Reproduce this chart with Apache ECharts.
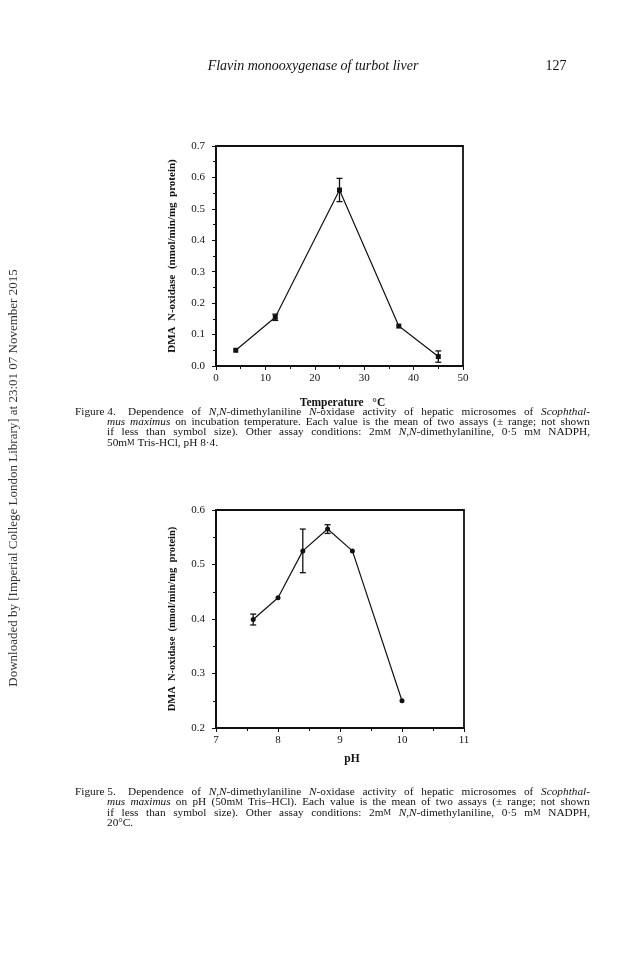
<!DOCTYPE html>
<html>
<head>
<meta charset="utf-8">
<script src="https://cdn.jsdelivr.net/npm/echarts@6/dist/echarts.min.js"></script>
<style>
html,body{margin:0;padding:0;background:#fff;}
#c{width:631px;height:953px;}
</style>
</head>
<body>
<div id="c"></div>
<script>
// Figure 4: temperature dependence
var tempX = [4, 12, 25, 37, 45];
var tempY = [0.05, 0.155, 0.56, 0.127, 0.03];
var tempErr = [0, 0.01, 0.037, 0, 0.018];
var tempTicksY = ['0.0','0.1','0.2','0.3','0.4','0.5','0.6','0.7'];

// Figure 5: pH dependence
var phX = [7.6, 8.0, 8.4, 8.8, 9.2, 10.0];
var phY = [0.399, 0.439, 0.525, 0.565, 0.525, 0.25];
var phErr = [0.01, 0, 0.04, 0.008, 0, 0];

// Caption texts ({i|...} italic, {sc|...} small capital)
var cap1 = [
  'Dependence of {i|N,N}-dimethylaniline {i|N}-oxidase activity of hepatic microsomes of {i|Scophthal-}',
  '{i|mus maximus} on incubation temperature. Each value is the mean of two assays (± range; not shown',
  'if less than symbol size). Other assay conditions: 2m{sc|M} {i|N,N}-dimethylaniline, 0·5 m{sc|M} NADPH,',
  '50m{sc|M} Tris-HCl, pH 8·4.'
];
var cap2 = [
  'Dependence of {i|N,N}-dimethylaniline {i|N}-oxidase activity of hepatic microsomes of {i|Scophthal-}',
  '{i|mus maximus} on pH (50m{sc|M} Tris–HCl). Each value is the mean of two assays (± range; not shown',
  'if less than symbol size). Other assay conditions: 2m{sc|M} {i|N,N}-dimethylaniline, 0·5 m{sc|M} NADPH,',
  '20°C.'
];

var SERIF = '"Liberation Serif", "DejaVu Serif", serif';
var INK = '#111';
var CAP_FS = 11.3;
var SC_FS = 8.5;

function pts(xs, ys){ return xs.map(function(x,i){ return [x, ys[i]]; }); }
function errs(xs, ys, es){
  var out = [];
  xs.forEach(function(x,i){ if (es[i] > 0) out.push([x, ys[i]-es[i], ys[i]+es[i]]); });
  return out;
}
function errRender(params, api){
  var lo = api.coord([api.value(0), api.value(1)]);
  var hi = api.coord([api.value(0), api.value(2)]);
  var w = 3;
  var st = {stroke: INK, lineWidth: 1.3};
  return {type:'group', children:[
    {type:'line', shape:{x1:lo[0], y1:lo[1], x2:hi[0], y2:hi[1]}, style:st},
    {type:'line', shape:{x1:lo[0]-w, y1:lo[1], x2:lo[0]+w, y2:lo[1]}, style:st},
    {type:'line', shape:{x1:hi[0]-w, y1:hi[1], x2:hi[0]+w, y2:hi[1]}, style:st}
  ]};
}

function axisCommon(){
  return {
    axisLine:{show:true, lineStyle:{color:INK, width:1.8}},
    axisTick:{show:true, length:4, lineStyle:{color:INK, width:1}},
    minorTick:{show:true, splitNumber:2, length:3, lineStyle:{color:INK, width:1}},
    splitLine:{show:false},
    axisLabel:{color:INK, fontFamily:SERIF, fontSize:11}
  };
}
function merge(a,b){ for (var k in b) a[k]=b[k]; return a; }

// ---- justified caption text ----
var mctx = document.createElement('canvas').getContext('2d');
var fonts = {
  n: CAP_FS + 'px ' + SERIF,
  i: 'italic ' + CAP_FS + 'px ' + SERIF,
  sc: SC_FS + 'px ' + SERIF
};
function measure(style, t){ mctx.font = fonts[style]; return mctx.measureText(t).width; }
function parseRich(s){
  var segs = [], re = /\{(\w+)\|([^}]*)\}/g, last = 0, m;
  while ((m = re.exec(s))){
    if (m.index > last) segs.push({s:'n', t:s.slice(last, m.index)});
    segs.push({s:m[1], t:m[2]});
    last = re.lastIndex;
  }
  if (last < s.length) segs.push({s:'n', t:s.slice(last)});
  return segs;
}
function toWords(s){
  var words = [[]];
  parseRich(s).forEach(function(seg){
    var parts = seg.t.split(' ');
    parts.forEach(function(p, k){
      if (k > 0) words.push([]);
      if (p.length) words[words.length-1].push({s:seg.s, t:p});
    });
  });
  return words.filter(function(w){ return w.length; });
}
var richCap = {
  i:{fontStyle:'italic', fontFamily:SERIF, fontSize:CAP_FS, color:INK},
  sc:{fontFamily:SERIF, fontSize:SC_FS, color:INK}
};
function lineGraphics(x, y, right, s, justify){
  var words = toWords(s);
  var widths = words.map(function(w){
    return w.reduce(function(a, seg){ return a + measure(seg.s, seg.t); }, 0);
  });
  var total = widths.reduce(function(a,b){ return a+b; }, 0);
  var gap = measure('n', ' ');
  if (justify && words.length > 1) gap = (right - x - total) / (words.length - 1);
  var out = [], cx = x;
  words.forEach(function(w, k){
    var txt = w.map(function(seg){ return seg.s === 'n' ? seg.t : '{' + seg.s + '|' + seg.t + '}'; }).join('');
    out.push({type:'text', x:cx, y:y, style:{text:txt, fontFamily:SERIF, fontSize:CAP_FS, fill:INK, rich:richCap, verticalAlign:'middle'}});
    cx += widths[k] + gap;
  });
  return out;
}

var graphics = [
  {type:'text', x:313, y:66, style:{text:'Flavin monooxygenase of turbot liver', fontFamily:SERIF, fontStyle:'italic', fontSize:14, fill:INK, align:'center', verticalAlign:'middle'}},
  {type:'text', x:556, y:66, style:{text:'127', fontFamily:SERIF, fontSize:14, fill:INK, align:'center', verticalAlign:'middle'}},
  {type:'text', x:14, y:478, rotation:Math.PI/2, style:{text:'Downloaded by [Imperial College London Library] at 23:01 07 November 2015', fontFamily:SERIF, fontSize:13, fill:'#333', align:'center', verticalAlign:'middle'}},
  {type:'text', x:75, y:412, style:{text:'Figure 4.', fontFamily:SERIF, fontSize:CAP_FS, fill:INK, verticalAlign:'middle'}},
  {type:'text', x:75, y:792, style:{text:'Figure 5.', fontFamily:SERIF, fontSize:CAP_FS, fill:INK, verticalAlign:'middle'}}
];
var RIGHT = 590;
var y1s = [412, 422.2, 432.4, 442.6];
var y2s = [792, 802.4, 812.6, 822.8];
cap1.forEach(function(s, k){
  graphics = graphics.concat(lineGraphics(k === 0 ? 128 : 107, y1s[k], RIGHT, s, k < 3));
});
cap2.forEach(function(s, k){
  graphics = graphics.concat(lineGraphics(k === 0 ? 128 : 107, y2s[k], RIGHT, s, k < 3));
});

var chart = echarts.init(document.getElementById('c'), null, {renderer:'canvas'});

var yName = 'DMA  N-oxidase  (nmol/min/mg  protein)';
var option = {
  backgroundColor:'#fff',
  animation:false,
  graphic: graphics,
  grid:[
    {left:216, top:146, width:247, height:220, show:true, borderColor:INK, borderWidth:1.8, backgroundColor:'transparent'},
    {left:216, top:510, width:248, height:218, show:true, borderColor:INK, borderWidth:1.8, backgroundColor:'transparent'}
  ],
  xAxis:[
    merge(axisCommon(), {gridIndex:0, type:'value', min:0, max:50, interval:10,
      name:'Temperature   °C', nameLocation:'middle', nameGap:31,
      nameTextStyle:{fontFamily:SERIF, fontWeight:'bold', fontSize:11.5, color:INK, padding:[0,0,0,6]},
      axisLabel:{color:INK, fontFamily:SERIF, fontSize:11, margin:7}}),
    merge(axisCommon(), {gridIndex:1, type:'value', min:7, max:11, interval:1,
      name:'pH', nameLocation:'middle', nameGap:25,
      nameTextStyle:{fontFamily:SERIF, fontWeight:'bold', fontSize:11.5, color:INK, padding:[0,0,0,24]},
      axisLabel:{color:INK, fontFamily:SERIF, fontSize:11, margin:7}})
  ],
  yAxis:[
    merge(axisCommon(), {gridIndex:0, type:'value', min:0, max:0.7, interval:0.1,
      name:yName, nameLocation:'middle', nameGap:38, nameRotate:90,
      nameTextStyle:{fontFamily:SERIF, fontWeight:'bold', fontSize:11, color:INK},
      axisLabel:{color:INK, fontFamily:SERIF, fontSize:11, margin:11, formatter:function(v){ var i=Math.round(v*10); return tempTicksY[i]; }}}),
    merge(axisCommon(), {gridIndex:1, type:'value', min:0.2, max:0.6, interval:0.1,
      name:yName, nameLocation:'middle', nameGap:38, nameRotate:90,
      nameTextStyle:{fontFamily:SERIF, fontWeight:'bold', fontSize:10.5, color:INK},
      axisLabel:{color:INK, fontFamily:SERIF, fontSize:11, margin:11, formatter:function(v){ return v.toFixed(1); }}})
  ],
  series:[
    {type:'line', xAxisIndex:0, yAxisIndex:0, data:pts(tempX, tempY), symbol:'rect', symbolSize:5,
      lineStyle:{color:INK, width:1.2}, itemStyle:{color:INK}},
    {type:'custom', xAxisIndex:0, yAxisIndex:0, data:errs(tempX, tempY, tempErr), renderItem:errRender, z:3},
    {type:'line', xAxisIndex:1, yAxisIndex:1, data:pts(phX, phY), symbol:'circle', symbolSize:5,
      lineStyle:{color:INK, width:1.2}, itemStyle:{color:INK}},
    {type:'custom', xAxisIndex:1, yAxisIndex:1, data:errs(phX, phY, phErr), renderItem:errRender, z:3}
  ]
};
chart.setOption(option);
</script>
</body>
</html>
